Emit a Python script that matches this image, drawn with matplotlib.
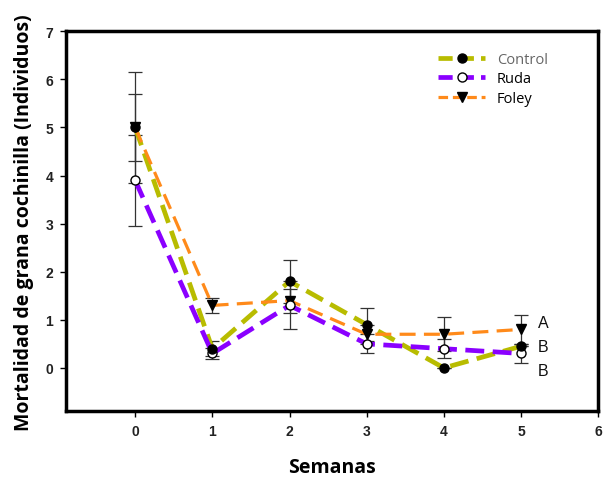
import matplotlib
matplotlib.use("Agg")
import matplotlib.pyplot as plt
from matplotlib.lines import Line2D

# Data
semanas = [0, 1, 2, 3, 4, 5]
control = [5.0, 0.4, 1.8, 0.9, 0.0, 0.45]
control_err = [1.15, 0.15, 0.45, 0.35, 0.0, 0.0]
ruda = [3.9, 0.3, 1.3, 0.5, 0.4, 0.3]
ruda_err = [0.95, 0.12, 0.5, 0.2, 0.2, 0.2]
foley = [5.0, 1.3, 1.4, 0.7, 0.7, 0.8]
foley_err = [0.7, 0.15, 0.25, 0.2, 0.35, 0.3]
letters = ["A", "B", "B"]
letter_y = [0.95, 0.45, -0.05]

c_control = "#b8bc00"
c_ruda = "#8a00ff"
c_foley = "#ff8a1a"

fig = plt.figure(figsize=(6.03, 4.81), dpi=100)
ax = fig.add_axes([0.109, 0.143, 0.883, 0.790])

# error bars first
for y, e in [(control, control_err), (ruda, ruda_err), (foley, foley_err)]:
    ax.errorbar(semanas, y, yerr=e, fmt="none", ecolor="#333333",
                elinewidth=0.9, capsize=5, capthick=0.9, zorder=2)

ax.plot(semanas, control, color=c_control, lw=3.4, dashes=(4, 1.8), zorder=3)
ax.plot(semanas, ruda, color=c_ruda, lw=3.4, dashes=(4, 1.8), zorder=3)
ax.plot(semanas, foley, color=c_foley, lw=2.3, dashes=(5, 2.6), zorder=4)

ax.plot(semanas, foley, "v", color="black", ms=6.5, zorder=5)
ax.plot(semanas, ruda, "o", mfc="white", mec="black", ms=6.5, zorder=6)
ax.plot(semanas, control, "o", color="black", ms=6.5, zorder=7)

for t, y in zip(letters, letter_y):
    ax.text(5.22, y, t, fontsize=11.5, family="Liberation Sans",
            va="center", ha="left", color="#111111")

ax.set_xlim(-0.9, 6)
ax.set_ylim(-0.9, 7)
ax.set_xticks(range(0, 7))
ax.set_yticks(range(0, 8))
for lab in ax.get_xticklabels() + ax.get_yticklabels():
    lab.set_fontfamily("Liberation Sans")
    lab.set_fontweight("bold")
    lab.set_fontsize(10)
    lab.set_color("#222222")
ax.tick_params(direction="out", length=4, width=1, pad=5)

for s in ax.spines.values():
    s.set_linewidth(2.5)

ax.set_xlabel("Semanas", fontsize=14, fontweight="bold", family="Open Sans", labelpad=14)
ax.set_ylabel("Mortalidad de grana cochinilla (Individuos)", fontsize=14,
              fontweight="bold", family="Open Sans", labelpad=8)

handles = [
    Line2D([0], [0], color=c_control, lw=3.4, dashes=(3, 1.5), marker="o",
           mfc="black", mec="black", ms=6.5),
    Line2D([0], [0], color=c_ruda, lw=3.4, dashes=(3, 1.5), marker="o",
           mfc="white", mec="black", ms=6.5),
    Line2D([0], [0], color=c_foley, lw=2.3, dashes=(3, 1.5), marker="v",
           mfc="black", mec="black", ms=6.5),
]
leg = ax.legend(handles, ["Control", "Ruda", "Foley"], loc="upper right",
                bbox_to_anchor=(0.93, 0.98), frameon=False, handlelength=3.2,
                prop={"family": "Open Sans", "size": 10.5}, labelspacing=0.3)
leg.get_texts()[0].set_color("#666666")

fig.savefig("out.png", dpi=100)
